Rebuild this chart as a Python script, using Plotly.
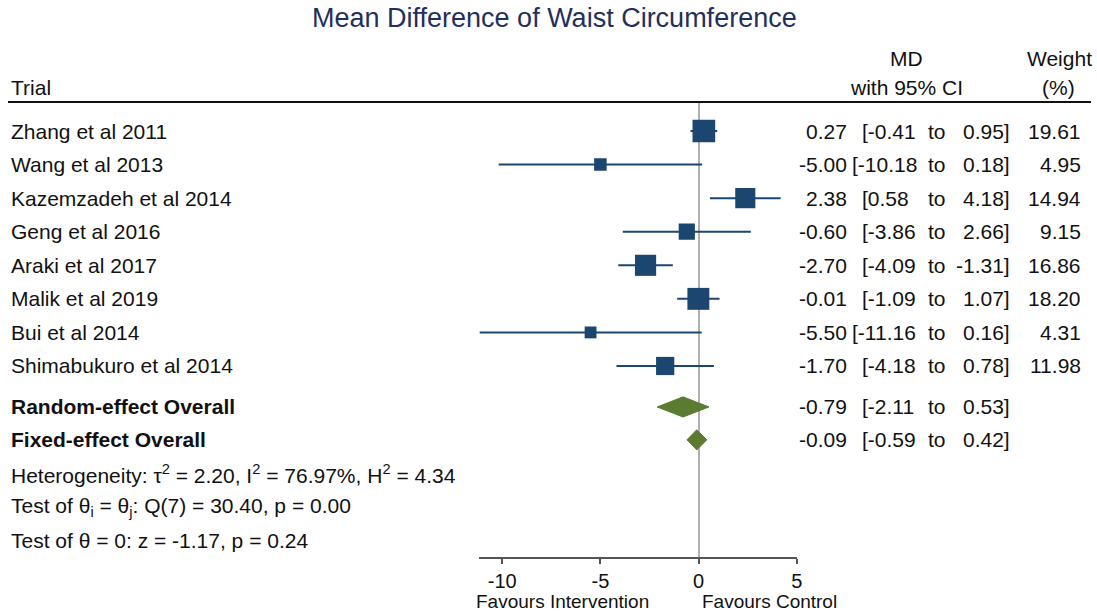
import numpy as np
import plotly.graph_objects as go

# ---- study data ----
trials = ["Zhang et al 2011", "Wang et al 2013", "Kazemzadeh et al 2014", "Geng et al 2016",
          "Araki et al 2017", "Malik et al 2019", "Bui et al 2014", "Shimabukuro et al 2014"]
md = [0.27, -5.00, 2.38, -0.60, -2.70, -0.01, -5.50, -1.70]
ci_low = [-0.41, -10.18, 0.58, -3.86, -4.09, -1.09, -11.16, -4.18]
ci_high = [0.95, 0.18, 4.18, 2.66, -1.31, 1.07, 0.16, 0.78]
weights = [19.61, 4.95, 14.94, 9.15, 16.86, 18.20, 4.31, 11.98]

# ---- pooled estimates ----
pooled_labels = ["Random-effect Overall", "Fixed-effect Overall"]
pooled_md = [-0.79, -0.09]
pooled_low = [-2.11, -0.59]
pooled_high = [0.53, 0.42]

stats_lines = [
    "Heterogeneity: τ<sup>2</sup> = 2.20, I<sup>2</sup> = 76.97%, H<sup>2</sup> = 4.34",
    "Test of θ<sub>i</sub> = θ<sub>j</sub>: Q(7) = 30.40, p = 0.00",
    "Test of θ = 0: z = -1.17, p = 0.24",
]

x_ticks = [-10, -5, 0, 5]
x_max = 5

W, H = 1097, 611
XS = 1090.0          # horizontal pixel scale used for paper coordinates
BLUE = "#1b4670"
GREEN = "#5b7b31"
FONT = "Arial, Liberation Sans, sans-serif"
TXT = "#111111"
FS = 21

# vertical layout (row units)
trial_rows = list(range(len(trials)))
pooled_rows = [8.22, 9.2]
stats_rows = [10.22, 11.21, 12.21]


def px(x):
    return x / XS


def py(y):
    return 1 - y / H


fig = go.Figure()

# confidence interval lines
for i, (lo, hi) in enumerate(zip(ci_low, ci_high)):
    fig.add_trace(go.Scatter(x=[lo, hi], y=[trial_rows[i]] * 2, mode="lines",
                             line=dict(color=BLUE, width=2), hoverinfo="skip",
                             showlegend=False))

# point estimates, box area proportional to weight
sizes = [2.3 + 4.6 * np.sqrt(w) for w in weights]
fig.add_trace(go.Scatter(x=md, y=trial_rows, mode="markers", opacity=1,
                         marker=dict(symbol="square", size=sizes, color=BLUE,
                                     opacity=1, line=dict(width=0)),
                         showlegend=False))

# pooled diamonds
half_h = 0.3
for r, est, lo, hi in zip(pooled_rows, pooled_md, pooled_low, pooled_high):
    fig.add_trace(go.Scatter(x=[lo, est, hi, est, lo],
                             y=[r, r - half_h, r, r + half_h, r],
                             mode="lines", fill="toself", fillcolor=GREEN,
                             line=dict(color=GREEN, width=1), showlegend=False,
                             hoverinfo="skip"))

ann = []


def text(x, y, s, anchor="left", size=FS, yref="y", color=TXT, bold=False):
    if bold:
        s = "<b>" + s + "</b>"
    ann.append(dict(x=px(x), xref="paper", y=y, yref=yref, text=s,
                    xanchor=anchor, yanchor="middle", showarrow=False,
                    font=dict(family=FONT, size=size, color=color)))


# title
ann.append(dict(x=px(554), xref="paper", y=py(18), yref="paper",
                text="Mean Difference of Waist Circumference", xanchor="center",
                yanchor="middle", showarrow=False,
                font=dict(family=FONT, size=27, color="#1f3060")))

# header
text(9, py(87), "Trial", yref="paper")
text(906, py(58), "MD", anchor="center", yref="paper")
text(906, py(87), "with 95% CI", anchor="center", yref="paper")
text(1059, py(58), "Weight", anchor="center", yref="paper")
text(1058, py(87), "(%)", anchor="center", yref="paper")


def numeric_row(y, est, lo, hi, w=None):
    text(848, y, f"{est:.2f}", anchor="right")
    lo_s = f"[{lo:.2f}"
    text(859 if abs(lo) < 10 else 849, y, lo_s, anchor="left")
    text(925, y, "to", anchor="left")
    text(1011, y, f"{hi:.2f}]", anchor="right")
    if w is not None:
        text(1082, y, f"{w:.2f}", anchor="right")


for i, name in enumerate(trials):
    text(9, trial_rows[i], name)
    numeric_row(trial_rows[i], md[i], ci_low[i], ci_high[i], weights[i])

for r, name, est, lo, hi in zip(pooled_rows, pooled_labels, pooled_md, pooled_low, pooled_high):
    text(9, r, name, bold=True)
    numeric_row(r, est, lo, hi)

for r, s in zip(stats_rows, stats_lines):
    text(9, r, s)

# favours labels under the axis
text(562, py(601), "Favours Intervention", anchor="center", size=19, yref="paper")
text(769, py(601), "Favours Control", anchor="center", size=19, yref="paper")

# header rule
shapes = [dict(type="line", xref="paper", yref="paper", x0=px(8), x1=1,
               y0=py(102), y1=py(102), line=dict(color="#111111", width=2))]

x_min = min(ci_low)
fig.update_layout(
    width=W, height=H,
    margin=dict(l=0, r=0, t=0, b=0),
    paper_bgcolor="white", plot_bgcolor="white",
    annotations=ann, shapes=shapes,
    xaxis=dict(domain=[px(479), px(796)], range=[x_min, x_max],
               tickvals=x_ticks, ticktext=[str(t) for t in x_ticks],
               ticks="outside", ticklen=5, tickwidth=1.5, tickcolor="#555555",
               showline=True, linecolor="#555555", linewidth=1.5,
               showgrid=False, zeroline=True, zerolinecolor="#b0b0b0",
               zerolinewidth=2, tickfont=dict(family=FONT, size=20, color=TXT),
               fixedrange=True),
    yaxis=dict(domain=[py(557), py(102)], range=[12.69, -0.864], visible=False,
               showgrid=False, zeroline=False, fixedrange=True),
    showlegend=False,
)

fig.write_html("out.html", config={"displayModeBar": False})
